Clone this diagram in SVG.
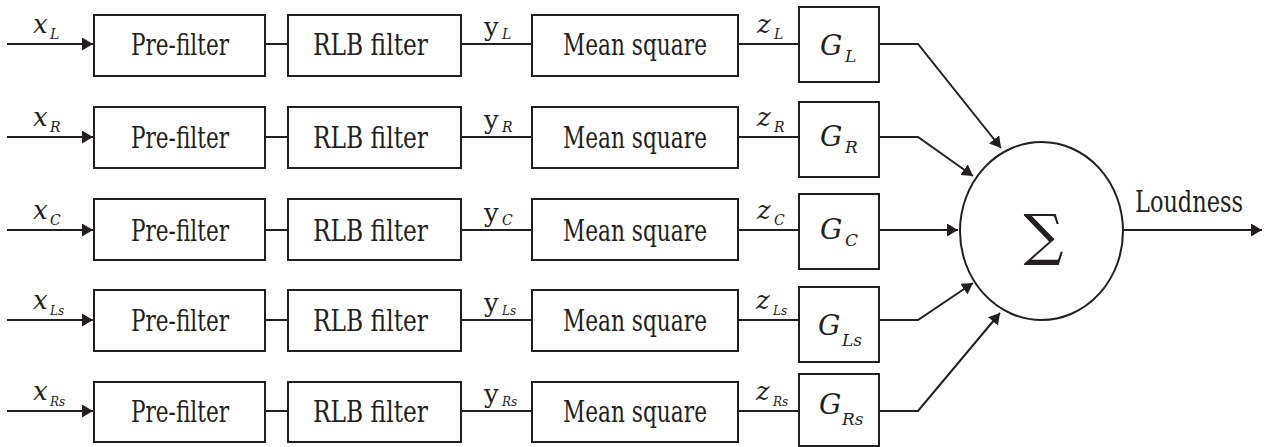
<svg xmlns="http://www.w3.org/2000/svg" width="1270" height="447" viewBox="0 0 1270 447" font-family="DejaVu Serif, serif">
<defs>
<marker id="arr" markerUnits="userSpaceOnUse" markerWidth="12" markerHeight="14" refX="11" refY="6.5" orient="auto">
<path d="M0,0 L11,6.5 L0,13 z" fill="#231f20"/>
</marker>
</defs>
<style>
.box{fill:#fff;stroke:#231f20;stroke-width:2}
.ln{fill:none;stroke:#231f20;stroke-width:2}
text{fill:#231f20}
.lab{font-size:24px}
.it{font-style:italic}
.sym{font-size:26px}
.gs{font-size:28px;font-style:italic}
.sub{font-size:14px;font-style:italic}
.sub2{font-size:12px;font-style:italic}
.gsub{font-size:17px;font-style:italic}
</style>
<rect width="1270" height="447" fill="#fff"/>
<g id="connectors">
<line class="ln" x1="7" y1="44" x2="93" y2="44" marker-end="url(#arr)"/>
<line class="ln" x1="7" y1="137" x2="93" y2="137" marker-end="url(#arr)"/>
<line class="ln" x1="7" y1="230" x2="93" y2="230" marker-end="url(#arr)"/>
<line class="ln" x1="7" y1="320" x2="93" y2="320" marker-end="url(#arr)"/>
<line class="ln" x1="7" y1="411" x2="93" y2="411" marker-end="url(#arr)"/>
<path class="ln" d="M265,44H288M461,44H532M738,44H799M265,137H288M461,137H532M738,137H799M265,230H288M461,230H532M738,230H799M265,320H288M461,320H532M738,320H799M265,411H288M461,411H532M738,411H799"/>
<polyline class="ln" points="879,44 918,44 1001,148" marker-end="url(#arr)"/>
<polyline class="ln" points="879,137 918,137 973,176" marker-end="url(#arr)"/>
<line class="ln" x1="879" y1="230" x2="958" y2="230" marker-end="url(#arr)"/>
<polyline class="ln" points="879,320 918,320 973,283" marker-end="url(#arr)"/>
<polyline class="ln" points="879,411 918,411 1000,313" marker-end="url(#arr)"/>
<line class="ln" x1="1123" y1="230" x2="1262" y2="230" marker-end="url(#arr)"/>
</g>
<g id="labels">
<text class="sym it" x="33" y="33">x</text><text class="sub" x="50" y="39">L</text>
<text class="sym it" x="33" y="126">x</text><text class="sub" x="50" y="132">R</text>
<text class="sym it" x="33" y="219">x</text><text class="sub" x="50" y="225">C</text>
<text class="sym it" x="33" y="309">x</text><text class="sub2" x="50" y="315">Ls</text>
<text class="sym it" x="33" y="400">x</text><text class="sub2" x="50" y="406">Rs</text>
<text class="sym" x="484" y="36">y</text><text class="sub" x="502" y="39">L</text>
<text class="sym" x="484" y="129">y</text><text class="sub" x="502" y="132">R</text>
<text class="sym" x="484" y="222">y</text><text class="sub" x="502" y="225">C</text>
<text class="sym" x="484" y="312">y</text><text class="sub2" x="502" y="315">Ls</text>
<text class="sym" x="484" y="403">y</text><text class="sub2" x="502" y="406">Rs</text>
<text class="sym it" x="757" y="33">z</text><text class="sub" x="774" y="39">L</text>
<text class="sym it" x="757" y="126">z</text><text class="sub" x="774" y="132">R</text>
<text class="sym it" x="757" y="219">z</text><text class="sub" x="774" y="225">C</text>
<text class="sym it" x="756" y="309">z</text><text class="sub2" x="773" y="315">Ls</text>
<text class="sym it" x="756" y="400">z</text><text class="sub2" x="773" y="406">Rs</text>
<text x="1135" y="0" font-size="26" textLength="108" lengthAdjust="spacingAndGlyphs" transform="translate(0 212) scale(1 1.12)">Loudness</text>
</g>
<g id="row-L">
<rect class="box" x="94" y="15" width="171" height="61"/>
<text class="lab" x="131" y="0" transform="translate(0 55) scale(1 1.25)" textLength="98" lengthAdjust="spacingAndGlyphs">Pre-filter</text>
<rect class="box" x="288" y="15" width="173" height="61"/>
<text class="lab" x="313" y="0" transform="translate(0 55) scale(1 1.25)" textLength="115" lengthAdjust="spacingAndGlyphs">RLB filter</text>
<rect class="box" x="532" y="15" width="206" height="61"/>
<text class="lab" x="563" y="0" transform="translate(0 55) scale(1 1.25)" textLength="144" lengthAdjust="spacingAndGlyphs">Mean square</text>
<rect class="box" x="799" y="7" width="80" height="75"/>
<text class="gs" x="820" y="55">G</text><text class="gsub" x="845" y="62">L</text>
</g>
<g id="row-R">
<rect class="box" x="94" y="107" width="171" height="61"/>
<text class="lab" x="131" y="0" transform="translate(0 148) scale(1 1.25)" textLength="98" lengthAdjust="spacingAndGlyphs">Pre-filter</text>
<rect class="box" x="288" y="107" width="173" height="61"/>
<text class="lab" x="313" y="0" transform="translate(0 148) scale(1 1.25)" textLength="115" lengthAdjust="spacingAndGlyphs">RLB filter</text>
<rect class="box" x="532" y="107" width="206" height="61"/>
<text class="lab" x="563" y="0" transform="translate(0 148) scale(1 1.25)" textLength="144" lengthAdjust="spacingAndGlyphs">Mean square</text>
<rect class="box" x="799" y="102" width="80" height="75"/>
<text class="gs" x="820" y="146">G</text><text class="gsub" x="845" y="153">R</text>
</g>
<g id="row-C">
<rect class="box" x="94" y="199" width="171" height="61"/>
<text class="lab" x="131" y="0" transform="translate(0 241) scale(1 1.25)" textLength="98" lengthAdjust="spacingAndGlyphs">Pre-filter</text>
<rect class="box" x="288" y="199" width="173" height="61"/>
<text class="lab" x="313" y="0" transform="translate(0 241) scale(1 1.25)" textLength="115" lengthAdjust="spacingAndGlyphs">RLB filter</text>
<rect class="box" x="532" y="199" width="206" height="61"/>
<text class="lab" x="563" y="0" transform="translate(0 241) scale(1 1.25)" textLength="144" lengthAdjust="spacingAndGlyphs">Mean square</text>
<rect class="box" x="799" y="194" width="80" height="75"/>
<text class="gs" x="820" y="239">G</text><text class="gsub" x="845" y="246">C</text>
</g>
<g id="row-Ls">
<rect class="box" x="94" y="290" width="171" height="61"/>
<text class="lab" x="131" y="0" transform="translate(0 331) scale(1 1.25)" textLength="98" lengthAdjust="spacingAndGlyphs">Pre-filter</text>
<rect class="box" x="288" y="290" width="173" height="61"/>
<text class="lab" x="313" y="0" transform="translate(0 331) scale(1 1.25)" textLength="115" lengthAdjust="spacingAndGlyphs">RLB filter</text>
<rect class="box" x="532" y="290" width="206" height="61"/>
<text class="lab" x="563" y="0" transform="translate(0 331) scale(1 1.25)" textLength="144" lengthAdjust="spacingAndGlyphs">Mean square</text>
<rect class="box" x="799" y="287" width="80" height="75"/>
<text class="gs" x="818" y="335">G</text><text class="gsub" x="842" y="346">Ls</text>
</g>
<g id="row-Rs">
<rect class="box" x="94" y="382" width="171" height="60"/>
<text class="lab" x="131" y="0" transform="translate(0 422) scale(1 1.25)" textLength="98" lengthAdjust="spacingAndGlyphs">Pre-filter</text>
<rect class="box" x="288" y="382" width="173" height="60"/>
<text class="lab" x="313" y="0" transform="translate(0 422) scale(1 1.25)" textLength="115" lengthAdjust="spacingAndGlyphs">RLB filter</text>
<rect class="box" x="532" y="382" width="206" height="60"/>
<text class="lab" x="563" y="0" transform="translate(0 422) scale(1 1.25)" textLength="144" lengthAdjust="spacingAndGlyphs">Mean square</text>
<rect class="box" x="799" y="374" width="80" height="72"/>
<text class="gs" x="819" y="414">G</text><text class="gsub" x="842" y="425">Rs</text>
</g>
<g id="sum">
<ellipse class="box" cx="1041.5" cy="231" rx="81.5" ry="89"/>
<text x="1043.5" y="254" font-size="56" text-anchor="middle">∑</text>
</g>
</svg>
